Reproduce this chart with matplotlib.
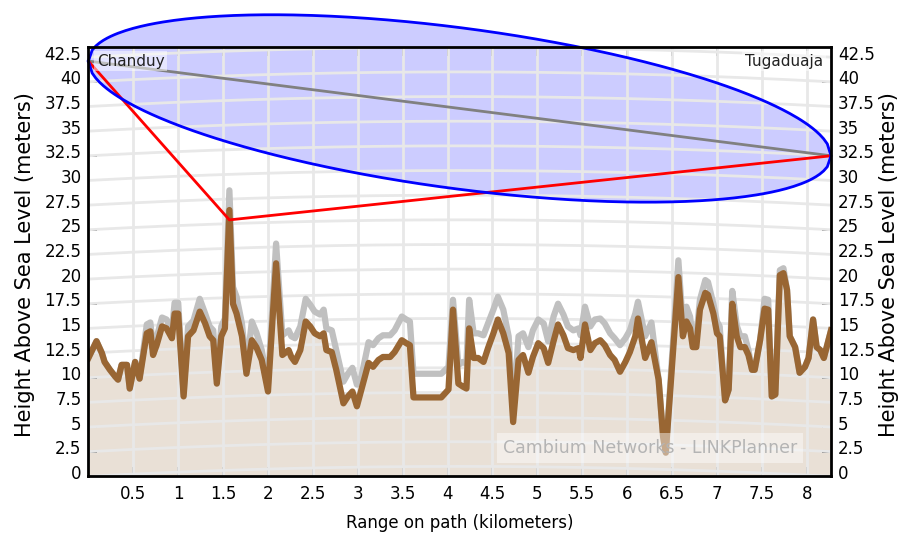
import matplotlib.pyplot as plt
import matplotlib.transforms as mtransforms
import numpy as np

# path profile (km, metres above sea level)
dist_km = [0.00, 0.09, 0.15, 0.18, 0.24, 0.30, 0.33, 0.37, 0.43, 0.46, 0.52, 0.57,
           0.65, 0.69, 0.72, 0.76, 0.82, 0.87, 0.93, 0.96, 1.00, 1.06, 1.11, 1.17,
           1.24, 1.30, 1.35, 1.39, 1.43, 1.48, 1.52, 1.57, 1.61, 1.65, 1.71, 1.76,
           1.82, 1.87, 1.93, 2.00, 2.09, 2.16, 2.23, 2.26, 2.30, 2.36, 2.42, 2.47,
           2.52, 2.58, 2.62, 2.65, 2.71, 2.76, 2.84, 2.89, 2.94, 2.99, 3.04, 3.12,
           3.17, 3.23, 3.28, 3.36, 3.41, 3.49, 3.54, 3.58, 3.62, 3.93, 4.01, 4.06,
           4.12, 4.17, 4.21, 4.24, 4.29, 4.34, 4.40, 4.45, 4.51, 4.56, 4.62, 4.68,
           4.73, 4.79, 4.84, 4.90, 4.95, 5.01, 5.07, 5.12, 5.18, 5.23, 5.29, 5.34,
           5.40, 5.46, 5.48, 5.53, 5.59, 5.64, 5.70, 5.75, 5.81, 5.86, 5.92, 5.98,
           6.03, 6.09, 6.12, 6.20, 6.27, 6.35, 6.40, 6.43, 6.57, 6.62, 6.66, 6.70,
           6.73, 6.77, 6.81, 6.87, 6.90, 6.96, 7.00, 7.03, 7.09, 7.13, 7.17, 7.22,
           7.26, 7.31, 7.35, 7.39, 7.42, 7.48, 7.53, 7.57, 7.61, 7.65, 7.70, 7.74,
           7.78, 7.81, 7.87, 7.92, 7.98, 8.02, 8.07, 8.11, 8.15, 8.19, 8.27]

terrain_m = [12.0, 13.7, 12.5, 11.6, 10.8, 10.1, 9.8, 11.3, 11.3, 8.9, 11.6, 9.9,
             14.5, 14.7, 12.3, 13.3, 15.2, 15.0, 14.0, 16.5, 16.5, 8.1, 14.2, 14.8,
             16.7, 15.5, 14.2, 13.8, 9.4, 14.2, 15.0, 27.0, 17.5, 16.5, 14.2, 10.4,
             13.8, 13.1, 11.8, 8.6, 21.6, 12.3, 12.8, 12.1, 11.6, 12.8, 15.7, 15.2,
             14.5, 14.2, 14.5, 12.8, 12.6, 10.8, 7.4, 8.1, 8.6, 7.1, 8.8, 11.5,
             11.1, 11.8, 12.1, 12.1, 12.6, 13.8, 13.5, 13.3, 8.0, 8.0, 8.8, 16.9,
             9.4, 9.1, 8.9, 15.0, 12.0, 12.0, 11.6, 13.0, 14.5, 15.9, 14.5, 12.5,
             5.5, 11.8, 12.3, 10.5, 12.1, 13.5, 13.0, 11.5, 13.7, 15.4, 14.3, 13.0,
             12.8, 13.0, 12.0, 15.4, 12.8, 13.5, 13.8, 13.3, 12.3, 11.8, 10.6, 11.6,
             12.6, 14.2, 16.0, 12.0, 13.6, 9.8, 4.0, 2.4, 20.2, 14.2, 15.7, 15.0,
             13.1, 13.1, 16.9, 18.6, 18.4, 16.5, 14.5, 14.2, 7.7, 8.8, 17.5, 14.2,
             13.1, 13.1, 12.3, 10.8, 10.8, 13.8, 17.0, 16.9, 8.1, 8.3, 20.4, 20.6,
             18.9, 14.2, 13.1, 10.5, 11.1, 12.0, 15.9, 13.1, 12.8, 12.0, 14.8]

clutter_m = [12.0, 13.7, 12.5, 11.6, 10.8, 10.1, 9.8, 11.3, 11.3, 8.9, 11.6, 9.9,
             15.4, 15.6, 12.9, 14.1, 16.1, 15.9, 14.8, 17.6, 17.6, 8.4, 15.2, 15.8,
             18.0, 16.5, 15.2, 14.8, 9.9, 15.2, 16.0, 29.0, 19.2, 18.2, 15.5, 10.9,
             15.7, 14.6, 12.8, 9.4, 23.6, 14.3, 14.8, 14.2, 14.0, 15.2, 18.0, 17.4,
             16.7, 16.4, 16.9, 15.0, 14.8, 12.8, 9.6, 10.4, 11.0, 9.3, 10.1, 13.6,
             13.3, 14.0, 14.3, 14.3, 14.8, 16.2, 15.9, 15.7, 10.4, 10.4, 11.1, 17.9,
             11.3, 11.6, 11.4, 17.9, 14.5, 14.5, 14.3, 15.5, 16.9, 18.2, 16.9, 14.2,
             6.5, 14.2, 14.5, 13.1, 14.8, 15.9, 15.5, 13.7, 16.2, 17.5, 16.4, 15.2,
             14.8, 15.0, 14.3, 17.2, 15.2, 15.9, 16.0, 15.5, 14.5, 14.0, 13.3, 14.0,
             14.8, 16.5, 17.7, 14.2, 15.6, 9.8, 4.0, 2.4, 21.9, 15.2, 17.2, 16.2,
             14.2, 14.2, 17.9, 19.9, 19.7, 17.5, 15.7, 15.2, 7.7, 8.8, 18.8, 15.3,
             14.2, 14.2, 12.8, 10.8, 10.8, 13.8, 18.0, 17.9, 8.1, 8.3, 20.9, 21.1,
             18.9, 14.2, 13.1, 10.5, 11.1, 12.0, 15.9, 13.1, 12.8, 12.0, 14.8]

path_km = 8.27
site_names = ['Chanduy', 'Tugaduaja']
antenna_m = [42.1, 32.5]          # antenna heights at each end
obstruction = [1.57, 26.0]        # worst obstruction point (km, m)
fresnel_m = 8.2                   # first fresnel radius at mid path

x_ticks = [0.5, 1, 1.5, 2, 2.5, 3, 3.5, 4, 4.5, 5, 5.5, 6, 6.5, 7, 7.5, 8]
x_ticklabels = ['0.5', '1', '1.5', '2', '2.5', '3', '3.5', '4', '4.5', '5',
                '5.5', '6', '6.5', '7', '7.5', '8']
y_ticks = [0, 2.5, 5, 7.5, 10, 12.5, 15, 17.5, 20, 22.5, 25, 27.5, 30, 32.5,
           35, 37.5, 40, 42.5]
y_ticklabels = ['0', '2.5', '5', '7.5', '10', '12.5', '15', '17.5', '20', '22.5',
                '25', '27.5', '30', '32.5', '35', '37.5', '40', '42.5']

plt.rcParams['font.family'] = ['DejaVu Sans']

fig = plt.figure(figsize=(9.03, 5.37), dpi=100)
ax = fig.add_axes([0.0979, 0.1130, 0.8224, 0.7989])
ax.set_xlim(0, path_km)
ax.set_ylim(0, 43.5)

# earth curvature (k = 4/3) for the horizontal grid
xs = np.linspace(0, path_km, 200)
bulge = xs * (path_km - xs) / (2 * 4 / 3 * 6371.0) * 1000

# terrain fill
ax.fill_between(dist_km, terrain_m, 0, facecolor='#e9e0d6', lw=0, zorder=1)

# fresnel zone
los = antenna_m[0] + (antenna_m[1] - antenna_m[0]) * xs / path_km
r = fresnel_m * 2 * np.sqrt(np.clip(xs * (path_km - xs), 0, None)) / path_km
ex = np.concatenate([xs, xs[::-1]])
ey = np.concatenate([los + r, (los - r)[::-1]])
ax.fill(ex, ey, facecolor='#0000ff', alpha=0.2, lw=0, zorder=1.5, clip_on=False)

# grid
for xv in x_ticks:
    ax.axvline(xv, color='#e8e8e8', lw=2, zorder=2)
for yv in y_ticks:
    ax.plot(xs, yv + bulge, color='#e8e8e8', lw=2, zorder=2)

# profile lines
ax.plot(dist_km, clutter_m, color='#c0c0c0', lw=4.5, zorder=3)
ax.plot(dist_km, terrain_m, color='#996633', lw=4.5, zorder=4)

# line of sight and obstruction path
ax.plot([0, path_km], antenna_m, color='#808080', lw=2, zorder=5)
ax.plot([0, obstruction[0], path_km], [antenna_m[0], obstruction[1], antenna_m[1]],
        color='#ff0000', lw=2, zorder=5)
ax.plot(ex, ey, color='#0000ff', lw=2, zorder=6, clip_on=False)

# site labels
ax.text(0.0116, 0.968, site_names[0], transform=ax.transAxes, fontsize=11,
        color='#222222', ha='left', va='center', zorder=7,
        bbox=dict(facecolor='white', alpha=0.5, edgecolor='none', pad=2))
ax.text(0.989, 0.968, site_names[1], transform=ax.transAxes, fontsize=11,
        color='#222222', ha='right', va='center', zorder=7,
        bbox=dict(facecolor='white', alpha=0.5, edgecolor='none', pad=2))

# watermark
ax.text(0.756, 0.066, 'Cambium Networks - LINKPlanner', transform=ax.transAxes,
        fontsize=12.5, color='#b4b4b4', ha='center', va='center', zorder=7,
        bbox=dict(facecolor='white', alpha=0.45, edgecolor='none', pad=4))

ax.set_xticks(x_ticks)
ax.set_xticklabels(x_ticklabels)
ax.set_yticks(y_ticks)
ax.set_yticklabels(y_ticklabels)
ax.tick_params(axis='both', direction='in', length=6.5, width=1.1, labelsize=12,
               colors='black')
ax.tick_params(axis='x', top=True, pad=6)
ax.tick_params(axis='y', left=True, right=True, labelleft=True, labelright=True, pad=5)
for s in ax.spines.values():
    s.set_linewidth(2)
    s.set_zorder(8)

# y tick labels sit a little above their ticks
shift = mtransforms.ScaledTranslation(0, 3.2 / 72, fig.dpi_scale_trans)
for t in ax.yaxis.get_major_ticks():
    t.label1.set_transform(t.label1.get_transform() + shift)
    t.label2.set_transform(t.label2.get_transform() + shift)

fig.text(0.0277, 0.5065, 'Height Above Sea Level (meters)', rotation=90,
         ha='center', va='center', fontsize=15)
fig.text(0.985, 0.5065, 'Height Above Sea Level (meters)', rotation=90,
         ha='center', va='center', fontsize=15)
fig.text(460 / 903, 1 - 523 / 537, 'Range on path (kilometers)', ha='center',
         va='center', fontsize=12)

fig.savefig('out.png', dpi=100)
